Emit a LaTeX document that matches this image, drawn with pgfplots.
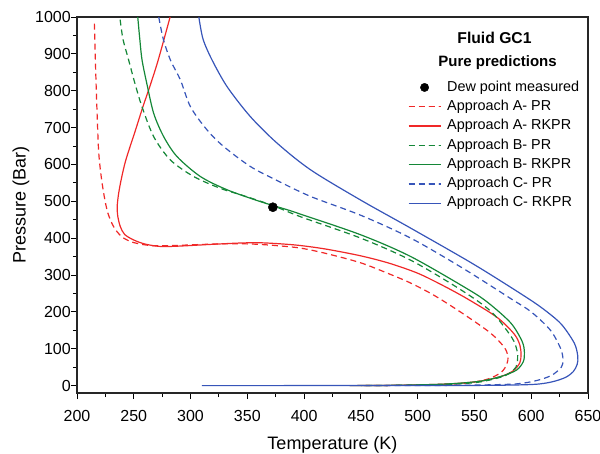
\documentclass[border=0pt]{standalone}
\usepackage{fontspec}
\setmainfont{Liberation Sans}
\usepackage{pgfplots}
\usepackage{pgfplotstable}
\pgfplotsset{compat=1.18}
\definecolor{cred}{RGB}{240,40,40}
\definecolor{cgreen}{RGB}{20,135,55}
\definecolor{cblue}{RGB}{55,85,185}

\pgfplotstableread{
T P
215.3 982
216.5 850
217.6 747
219 639
220.8 580
223.5 522
227 470
232.3 431
239 405
247 391
255 384.5
262 381
268 379.5
285 380
310 383
335 385
355 384
375 380
397 373
420 358
450 333
475 303
494 278
515 244
540 195
564 143
576 105
579.5 80
578.5 58
573.5 36
562 18
544 7
520 3
490 1
450 0
}\tAPR

\pgfplotstableread{
T P
282 1000
271.5 883
264.5 815
258 756
251.5 693
243 612
239 560
236.7 522
235.4 486
236 458
238.2 431
242 410
250 395
260 384
273.5 377.5
290 378.5
320 383.5
345 387
362 387.5
380 384.5
397 380
420 370
450 352
475 332
500 305
522 272
544 235
570 185
585 140
590 110
591 85
590 62
584 40
573.5 25
555 12
530 5
500 2
470 0.5
440 0
}\tARK

\pgfplotstableread{
T P
238 993
240.5 940
245.5 883
251 820
257.3 756
267.6 675
282.3 612
302.9 567
326.4 535
347 515
372 489
397 458
450 400
494 340
538 260
565 200
583 130
587.5 95
588 72
586.5 50
577 27
555 10
530 4
500 1.5
450 0
}\tBPR

\pgfplotstableread{
T P
253.5 1000
255.3 940
257.3 883
261.8 815
267.6 738
276.4 675
288.2 621
308.8 567
332.4 531
361.7 499
385.3 477
397 465
450 409
494 350
544 262
562 225
582 170
592 120
594 90
593 65
587 42
573.5 25
555 12
529 5
500 2
470 0.5
440 0
}\tBRK

\pgfplotstableread{
T P
272 1000
276 940
282.3 883
291.1 829
300 756
314.7 693
329.4 648
352.9 594
376.5 556
405.9 513
450 462
494 400
540 318
582 236
600 200
617 150
626 100
628 70
626.5 50
618 28
605 14
588 5
560 2
520 0.5
450 0
}\tCPR

\pgfplotstableread{
T P
307.3 1000
311 940
319 883
332.4 810
352.9 729
376.5 657
405.9 585
450 503
494 427
550 328
597 237
614 200
627 165
638 115
641 80
640.5 58
637 38
630 22
618 10
603 3.5
570 1
510 0.3
310 0
}\tCRK

\begin{document}
\begin{tikzpicture}
\path[use as bounding box] (-77pt,-60pt) rectangle (523pt,393pt);
\begin{axis}[
  scale only axis,
  width=511pt, height=376pt,
  xmin=200, xmax=650, ymin=-20, ymax=1000,
  xtick={200,250,...,650},
  ytick={0,100,...,1000},
  minor x tick num=1,
  minor y tick num=1,
  tick align=outside,
  xtick pos=bottom, ytick pos=left,
  major tick length=6pt,
  minor tick length=4pt,
  tick style={black, line width=0.9pt},
  axis line style={black!85, line width=1.2pt},
  /pgf/number format/assume math mode=true,
  /pgf/number format/1000 sep={},
  ticklabel style={font=\fontsize{16}{18}\selectfont},
  xticklabel style={yshift=-8pt},
  yticklabel style={xshift=1pt, inner sep=1pt},
  xlabel={Temperature (K)},
  ylabel={Pressure (Bar)},
  every axis x label/.style={at={(axis description cs:0.5,0)}, yshift=-52pt, anchor=center, font=\fontsize{18}{20}\selectfont},
  every axis y label/.style={at={(axis description cs:0,0.5)}, xshift=-56pt, rotate=90, anchor=center, font=\fontsize{18}{20}\selectfont},
  legend image code/.code={\draw[mark repeat=2,mark phase=2,#1] plot coordinates {(0pt,0pt) (16pt,0pt) (32pt,0pt)};},
  legend cell align=left,
  legend style={at={(0.6477,0.8306)}, anchor=north west, draw=none, fill=none,
    inner sep=0pt, outer sep=0pt, column sep=6pt, row sep=5.8pt,
    font=\fontsize{14.4}{16}\selectfont,
    nodes={inner sep=0pt, text height=10.5pt, text depth=3pt}},
]
\addlegendimage{only marks, mark=*, mark size=4.2pt, black}
\addlegendentry{Dew point measured}
\addplot[cred, line width=1.2pt, smooth, tension=0.5, dash pattern=on 6pt off 4pt] table {\tAPR};
\addlegendentry{Approach A- PR}
\addplot[cred, line width=1.2pt, smooth, tension=0.5] table {\tARK};
\addlegendentry{Approach A- RKPR}
\addplot[cgreen, line width=1.2pt, smooth, tension=0.5, dash pattern=on 6pt off 4pt] table {\tBPR};
\addlegendentry{Approach B- PR}
\addplot[cgreen, line width=1.2pt, smooth, tension=0.5] table {\tBRK};
\addlegendentry{Approach B- RKPR}
\addplot[cblue, line width=1.2pt, smooth, tension=0.5, dash pattern=on 6pt off 4pt] table {\tCPR};
\addlegendentry{Approach C- PR}
\addplot[cblue, line width=1.2pt, smooth, tension=0.5] table {\tCRK};
\addlegendentry{Approach C- RKPR}
\addplot[only marks, mark=*, mark size=4.6pt, black, forget plot] coordinates {(372.5,484)};
\node[font=\bfseries\fontsize{15.7}{17}\selectfont] at (axis description cs:0.817,0.944) {Fluid GC1};
\node[font=\bfseries\fontsize{15}{17}\selectfont] at (axis description cs:0.823,0.878) {Pure predictions};
\end{axis}
\end{tikzpicture}
\end{document}
